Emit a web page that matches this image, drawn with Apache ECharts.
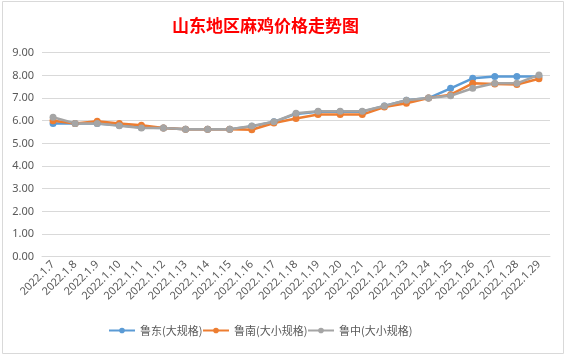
<!DOCTYPE html>
<html><head><meta charset="utf-8">
<script src="https://cdn.jsdelivr.net/npm/echarts@6/dist/echarts.min.js"></script>
<style>html,body{margin:0;padding:0;background:#fff;}#c{width:568px;height:356px;}</style>
</head><body><div id="c"></div>
<script>
var categories = ['2022.1.7','2022.1.8','2022.1.9','2022.1.10','2022.1.11','2022.1.12','2022.1.13','2022.1.14','2022.1.15','2022.1.16','2022.1.17','2022.1.18','2022.1.19','2022.1.20','2022.1.21','2022.1.22','2022.1.23','2022.1.24','2022.1.25','2022.1.26','2022.1.27','2022.1.28','2022.1.29'];
var ludong = [5.88,5.88,5.88,5.8,5.7,5.68,5.62,5.62,5.62,5.75,5.95,6.3,6.4,6.4,6.4,6.65,6.9,7.0,7.43,7.87,7.95,7.95,7.95];
var lunan  = [6.0,5.88,5.98,5.88,5.8,5.68,5.62,5.62,5.62,5.6,5.9,6.1,6.27,6.27,6.27,6.6,6.77,7.0,7.15,7.65,7.62,7.6,7.85];
var luzhong= [6.15,5.88,5.88,5.78,5.68,5.68,5.62,5.62,5.62,5.77,5.95,6.33,6.42,6.42,6.42,6.65,6.9,7.0,7.1,7.43,7.65,7.65,8.02];
var seriesNames = ['鲁东(大规格)','鲁南(大小规格)','鲁中(大小规格)'];
var colors = ['#5B9BD5','#ED7D31','#A5A5A5'];
var legendLefts = [108, 202, 307];

var chart = echarts.init(document.getElementById('c'));
function mk(name, data, color){
  return {name:name,type:'line',data:data,symbol:'circle',symbolSize:7,
    lineStyle:{width:2.5,color:color},itemStyle:{color:color},animation:false};
}
var legends = seriesNames.map(function(n,i){
  return {data:[n],top:325,left:legendLefts[i],itemWidth:26,itemHeight:7,padding:0,
    textStyle:{color:'#595959',fontSize:11,fontFamily:'Noto Sans CJK SC'}};
});
chart.setOption({
  animation:false,
  title:{text:'山东地区麻鸡价格走势图',left:167,top:12,
    textStyle:{color:'#FF0000',fontSize:17,fontWeight:'bold',fontFamily:'Noto Sans CJK SC'}},
  graphic:[{type:'rect',shape:{x:2.5,y:1.5,width:561,height:352},style:{fill:'none',stroke:'#D9D9D9',lineWidth:1},silent:true}],
  grid:{left:42,right:18,top:52.7,bottom:99.3,containLabel:false},
  legend:legends,
  xAxis:{type:'category',data:categories,boundaryGap:true,
    axisLine:{show:true,lineStyle:{color:'#D9D9D9'}},axisTick:{show:false},
    axisLabel:{rotate:45,interval:0,color:'#595959',fontSize:11,fontFamily:'Noto Sans',margin:6}},
  yAxis:{type:'value',min:0,max:9,interval:1,
    axisLine:{show:false},axisTick:{show:false},
    splitLine:{lineStyle:{color:'#D9D9D9'}},
    axisLabel:{formatter:function(v){return v.toFixed(2);},color:'#595959',fontSize:11,fontFamily:'Noto Sans',margin:8}},
  series:[mk(seriesNames[0],ludong,colors[0]),mk(seriesNames[1],lunan,colors[1]),mk(seriesNames[2],luzhong,colors[2])]
});
</script></body></html>
